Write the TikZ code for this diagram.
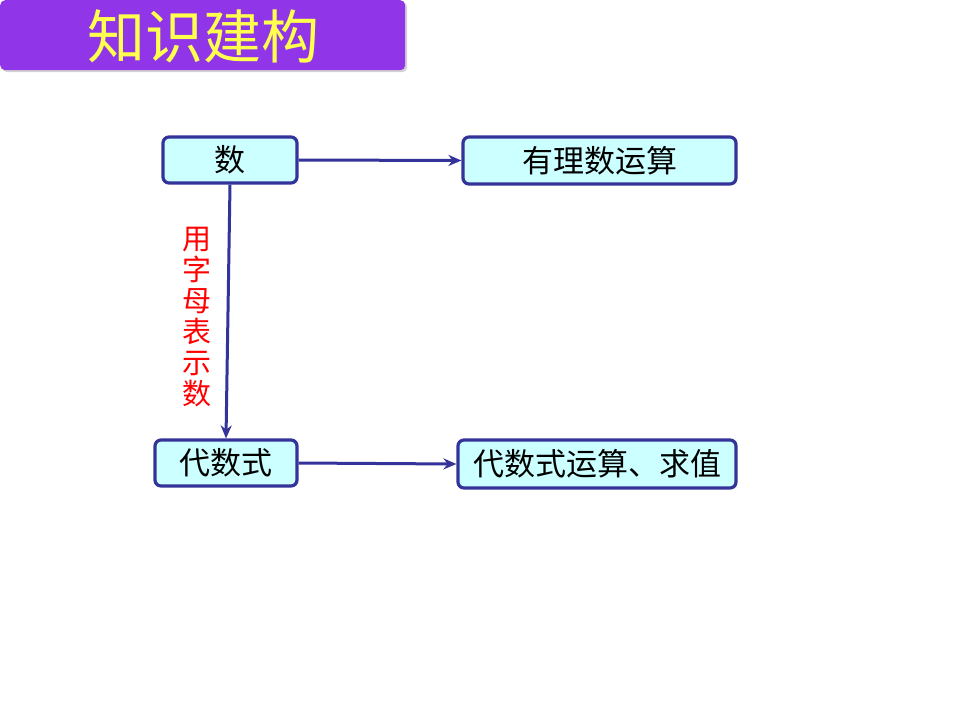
\documentclass[tikz,border=0pt]{standalone}
\usepackage{fontspec}
\newfontfamily\cjk{Noto Sans CJK SC}
\usetikzlibrary{arrows.meta,shadows}
\definecolor{titlepurple}{HTML}{9035E8}
\definecolor{titletext}{HTML}{FFFF4D}
\definecolor{boxfill}{HTML}{CCFFFF}
\definecolor{boxdraw}{HTML}{333399}
\tikzset{
  cbox/.style={draw=boxdraw, line width=3.2pt, fill=boxfill, rounded corners=6pt, inner sep=0pt, font=\cjk\fontsize{31}{33}\selectfont},
  conn/.style={draw=boxdraw, line width=3pt, -{Stealth[length=13pt,width=11pt]}}
}
\begin{document}
\begin{tikzpicture}[x=1pt,y=-1pt]
\useasboundingbox (0,0) rectangle (960,720);
\fill[white] (0,0) rectangle (960,720);
\node[fill=titlepurple, rounded corners=5pt, minimum width=405pt, minimum height=70pt, anchor=north west, inner sep=0pt, drop shadow={shadow xshift=2pt, shadow yshift=-2pt, opacity=0.35}] (title) at (0,0) {};
\node[font=\cjk\fontsize{58}{62}\selectfont, text=titletext] (titletext) at (203,36) {知识建构};
\node[cbox, minimum width=134pt, minimum height=46pt] (shu) at (230,160) {数};
\node[cbox, minimum width=273pt, minimum height=47pt] (yl) at (599.5,160.5) {有理数运算};
\node[cbox, minimum width=142pt, minimum height=46pt] (dss) at (226,463) {代数式};
\node[cbox, minimum width=278pt, minimum height=48pt] (dsy) at (597,464) {代数式运算、求值};
\draw[conn] (shu.east) -- (yl.west);
\draw[conn] (shu.south) -- (dss.north);
\draw[conn] (dss.east) -- (dsy.west);
\node[font=\cjk\fontsize{29}{31}\selectfont, text=red, align=center] (lbl) at (197,317) {用\\字\\母\\表\\示\\数};
\end{tikzpicture}
\end{document}
